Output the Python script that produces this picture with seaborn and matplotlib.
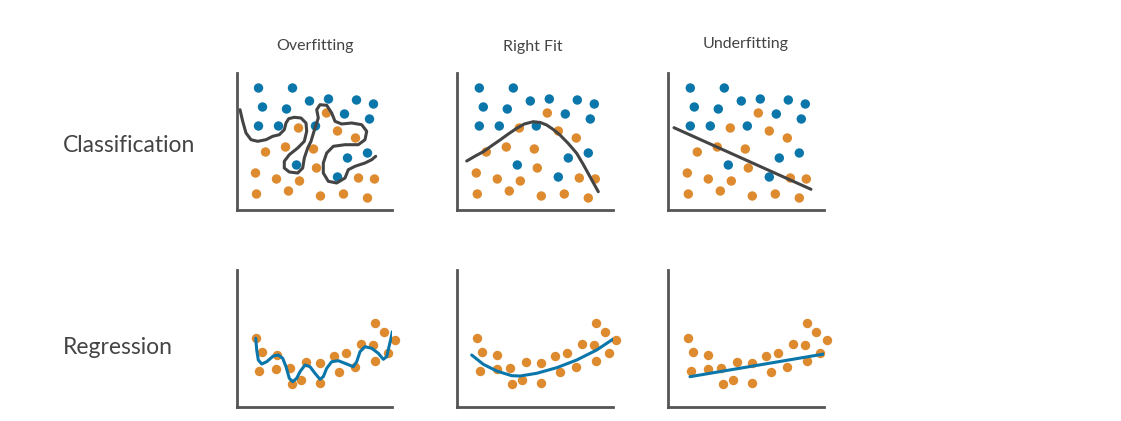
import pandas as pd
import matplotlib
matplotlib.use('Agg')
import matplotlib.pyplot as plt
import seaborn as sns
import numpy as np

# column / row titles
col_titles = ['Overfitting', 'Right Fit', 'Underfitting']
row_titles = ['Classification', 'Regression']

# classification dots (x, y in panel units)
blue_x = [22, 56, 26, 50, 73, 92, 120, 137, 22, 42, 79, 108, 133, 131, 111, 60, 101]
blue_y = [122, 122, 103, 101, 109, 111, 110, 106, 84, 84, 84, 96, 91, 57, 52, 45, 33]
orange_x = [90, 62, 101, 119, 29, 49, 77, 19, 40, 63, 80, 122, 138, 20, 52, 84, 107, 131]
orange_y = [97, 82, 79, 72, 58, 63, 61, 37, 31, 29, 42, 32, 31, 16, 19, 14, 16, 12]

# classification boundaries
over_cls_x = [3.5, 6.2, 9.5, 14.5, 21.2, 29.5, 36.2, 42.8, 47.8, 49.5, 52.2, 57.8, 64.5, 69.5,
              70.2, 67.8, 61.2, 52.8, 47.8, 47.8, 52.8, 61.2, 66.2, 67.8, 71.2, 74.5, 78.5,
              81.8, 80.2, 83.5, 90.2, 95.2, 98.5, 105.2, 115.2, 125.2, 130.2, 128.5, 121.8,
              108.5, 96.8, 90.2, 86.8, 86.8, 91.8, 100.2, 108.5, 111.8, 118.5, 128.5, 135.2, 139.2]
over_cls_y = [100.3, 88.7, 77, 70.3, 68.7, 70.3, 73.7, 75.3, 80.3, 87, 91.3, 92.7, 92, 87,
              78.7, 68.7, 62, 55.3, 48.7, 42, 38, 37, 42, 52, 62, 68.7, 82,
              92, 100.3, 105.3, 104.7, 97, 88.7, 86, 87, 85.3, 78.7, 70.3, 65.3,
              65.3, 63.7, 57, 47, 37, 28.7, 27, 32, 40.3, 43.7, 47, 50.3, 53.7]
right_cls_x = [9.4, 18, 26, 34, 42.7, 51, 59.4, 67, 76, 83, 89.4, 96, 102.7, 111, 119.4, 126, 132.7, 141]
right_cls_y = [49, 54, 58.3, 64, 70, 76, 81.7, 86, 88.3, 87.5, 85, 80.5, 75, 66.5, 56.7, 45.5, 33.3, 18.3]
under_cls_x = [5.7, 142.7]
under_cls_y = [82.3, 20.7]

# regression dots
reg_x = [19.5, 25, 22.5, 40, 39.5, 53, 55, 64.5, 69, 84, 84, 98, 103, 109.5, 119, 125, 137, 139,
         147.5, 159, 152, 139]
reg_y = [69, 55, 36, 52, 38, 39, 23, 27, 45, 44, 24, 51, 35, 54, 40, 63, 62, 84,
         75, 67, 54, 46]

# regression fits
over_reg_x = [19.2, 20.2, 21.8, 25.2, 30.2, 36.8, 41.8, 46.2, 49.5, 52.8, 56.2, 60.2, 63.5, 68.5,
              73.5, 78.5, 83.5, 86.8, 90.2, 95.2, 101.8, 110.2, 116.8, 120.2, 123.5, 128.5,
              135.2, 141.8, 146.8, 150.2, 152.5, 154.5, 155.8]
over_reg_y = [68.7, 57, 47, 43, 45.3, 51, 52, 48.7, 40.3, 28.7, 25.3, 28.7, 35.3, 42,
              40.3, 33.7, 27.7, 30.3, 38.7, 45.3, 46.3, 43, 40.3, 45.3, 55.3, 60.3,
              58.7, 53.7, 47.7, 50.3, 60.3, 68.7, 75.3]
right_reg_x = [14.4, 26, 39.4, 54.4, 62.7, 79.4, 99.4, 119.4, 139.4, 159.4]
right_reg_y = [52, 42.7, 36, 31.3, 31, 33.7, 39.3, 47, 57, 70.3]
under_reg_x = [21.7, 163.4]
under_reg_y = [30.3, 54.3]

BLUE = '#0b76aa'
ORANGE = '#de8a2e'
DARK = '#444444'
SPINE = '#555555'

sns.set_style('white')
plt.rcParams['font.family'] = ['Lato', 'DejaVu Sans']

W, H = 1121, 421
fig = plt.figure(figsize=(W / 100, H / 100), dpi=100)

panel_left = [236.5, 457.3, 668.3]
row_bottom = [210, 407]
pw, ph = 156, 137

cls_df = pd.DataFrame({
    'x': blue_x + orange_x,
    'y': blue_y + orange_y,
    'cls': ['blue'] * len(blue_x) + ['orange'] * len(orange_x),
})
reg_df = pd.DataFrame({'x': reg_x, 'y': reg_y})

cls_lines = [(over_cls_x, over_cls_y), (right_cls_x, right_cls_y), (under_cls_x, under_cls_y)]
reg_lines = [(over_reg_x, over_reg_y), (right_reg_x, right_reg_y), (under_reg_x, under_reg_y)]

for r in range(2):
    for c in range(3):
        ax = fig.add_axes([panel_left[c] / W, 1 - row_bottom[r] / H, pw / W, ph / H])
        ax.set_xlim(0, pw)
        ax.set_ylim(0, ph)
        if r == 0:
            sns.scatterplot(data=cls_df, x='x', y='y', hue='cls',
                            palette={'blue': BLUE, 'orange': ORANGE},
                            s=46, linewidth=0, legend=False, ax=ax, clip_on=False)
            lx, ly = cls_lines[c]
            sns.lineplot(x=lx, y=ly, sort=False, estimator=None, color=DARK,
                         linewidth=2.2, ax=ax)
        else:
            sns.scatterplot(data=reg_df, x='x', y='y', color=ORANGE, s=46,
                            linewidth=0, legend=False, ax=ax, clip_on=False)
            lx, ly = reg_lines[c]
            sns.lineplot(x=lx, y=ly, sort=False, estimator=None, color=BLUE,
                         linewidth=2.2, ax=ax)
        for s in ['top', 'right']:
            ax.spines[s].set_visible(False)
        for s in ['left', 'bottom']:
            ax.spines[s].set_color(SPINE)
            ax.spines[s].set_linewidth(2)
        ax.set_xticks([])
        ax.set_yticks([])
        ax.set_xlabel('')
        ax.set_ylabel('')
        ax.patch.set_alpha(0)

title_x = [315, 533, 746]
title_y = [46, 47, 44]
for t, x, y in zip(col_titles, title_x, title_y):
    fig.text(x / W, 1 - y / H, t, ha='center', va='center', fontsize=11.5,
             color='#444444')

for t, y in zip(row_titles, [145, 347]):
    fig.text(63 / W, 1 - y / H, t, ha='left', va='center', fontsize=16.5,
             color='#444444')

plt.savefig('out.png', dpi=100)
